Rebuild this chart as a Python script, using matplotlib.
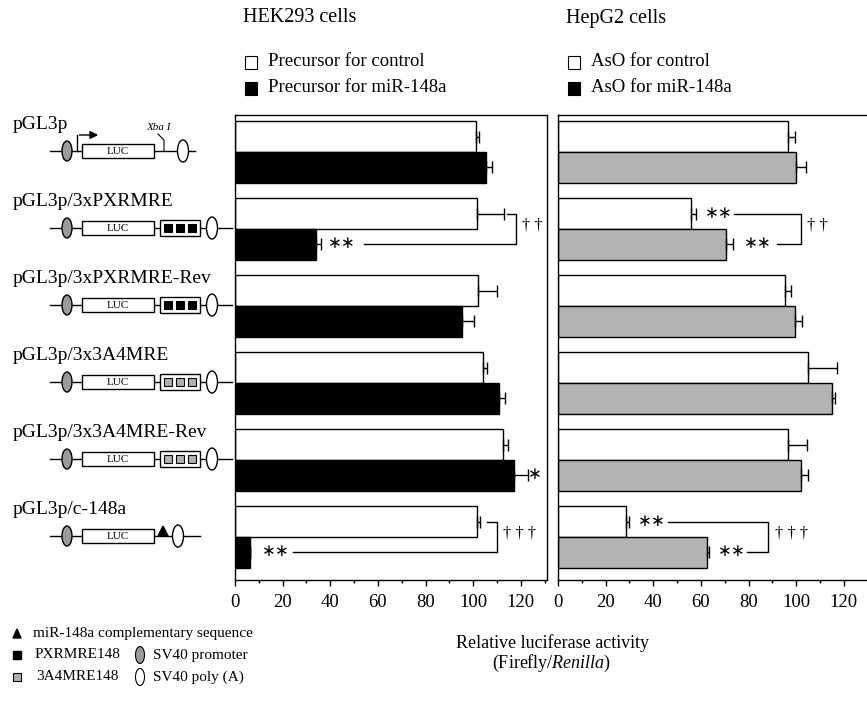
import matplotlib
matplotlib.use('Agg')
import matplotlib.pyplot as plt
from matplotlib.patches import Rectangle, Ellipse, Polygon
from matplotlib.ticker import MultipleLocator
import numpy as np

plt.rcParams['font.family'] = ['Liberation Serif', 'DejaVu Sans']
plt.rcParams['mathtext.fontset'] = 'custom'
plt.rcParams['mathtext.rm'] = 'Liberation Serif'
plt.rcParams['mathtext.it'] = 'Liberation Serif:italic'

# --- data ---
constructs = ['pGL3p', 'pGL3p/3xPXRMRE', 'pGL3p/3xPXRMRE-Rev',
              'pGL3p/3x3A4MRE', 'pGL3p/3x3A4MRE-Rev', 'pGL3p/c-148a']
construct_kind = ['plain', 'pxr', 'pxr', 'a4', 'a4', 'c148']

hek_ctrl = [101, 101.5, 102, 104, 112.5, 101.5]
hek_ctrl_err = [1.5, 11.5, 8, 2, 2, 1.5]
hek_mir = [105.5, 34, 95.5, 111, 117, 6.5]
hek_mir_err = [2.5, 2, 5, 2.5, 6, 0]

hep_ctrl = [96.5, 56, 95.5, 105, 96.5, 28.5]
hep_ctrl_err = [3, 2, 2.5, 12, 8, 1.5]
hep_aso = [100, 70.5, 99.5, 115, 102, 62.5]
hep_aso_err = [4, 3, 3, 1.5, 3, 1]

hek_title = 'HEK293 cells'
hep_title = 'HepG2 cells'
hek_legend = ['Precursor for control', 'Precursor for miR-148a']
hep_legend = ['AsO for control', 'AsO for miR-148a']
xticks = [0, 20, 40, 60, 80, 100, 120]

W, H = 867, 707
fig = plt.figure(figsize=(W / 100, H / 100), dpi=100)

# full figure axes in pixel coords for the schematic stuff
dax = fig.add_axes([0, 0, 1, 1])
dax.set_xlim(0, W)
dax.set_ylim(H, 0)
dax.axis('off')

top, bot = 115, 580
def pix_axes(x0, width):
    return fig.add_axes([x0 / W, (H - bot) / H, width / W, (bot - top) / H])

ax1 = pix_axes(235, 312)
ax2 = pix_axes(558, 312)   # right frame runs off the edge like the scan

yc = np.arange(len(constructs))
hb = 0.4

def panel(ax, ctrl, ctrl_err, trt, trt_err, trt_color):
    zeros = [0] * len(ctrl)
    ekw = dict(elinewidth=1, capthick=1, ecolor='k')
    ax.barh(yc - hb / 2, ctrl, height=hb, color='white', edgecolor='k', lw=1,
            xerr=[zeros, ctrl_err], capsize=4, error_kw=ekw)
    ax.barh(yc + hb / 2, trt, height=hb, color=trt_color, edgecolor='k', lw=1,
            xerr=[zeros, trt_err], capsize=4, error_kw=ekw)
    ax.set_xlim(0, 131)
    ax.set_ylim(5.558, -0.4805)
    ax.set_yticks([])
    ax.set_xticks(xticks)
    ax.xaxis.set_minor_locator(MultipleLocator(10))
    ax.tick_params(axis='x', which='major', direction='out', length=4, width=1,
                   labelsize=13.5, pad=6)
    ax.tick_params(axis='x', which='minor', direction='out', length=2.5, width=1)
    for s in ax.spines.values():
        s.set_linewidth(1)

panel(ax1, hek_ctrl, hek_ctrl_err, hek_mir, hek_mir_err, 'black')
panel(ax2, hep_ctrl, hep_ctrl_err, hep_aso, hep_aso_err, '#b3b3b3')

STAR = dict(fontsize=12, ha='center', va='center')

def bracket(ax, i, xt0, xb0, xv, dag, xd):
    yw, yb = i - hb / 2, i + hb / 2
    ax.plot([xt0, xv, xv, xb0], [yw, yw, yb, yb], color='k', lw=1)
    ax.text(xd, i - 0.05, dag, fontsize=12, ha='center', va='center')

# HEK293 significance marks
bracket(ax1, 1, 114, 54, 118, '\u2020 \u2020', 125)
ax1.text(45, 1 + hb / 2, '\u2217\u2217', **STAR)
bracket(ax1, 5, 106, 24.5, 110, '\u2020 \u2020 \u2020', 119.5)
ax1.text(17, 5 + hb / 2, '\u2217\u2217', **STAR)
ax1.text(126, 4 + hb / 2, '\u2217', **STAR)

# HepG2 significance marks
bracket(ax2, 1, 74, 92, 102, '\u2020 \u2020', 109)
ax2.text(67.5, 1 - hb / 2, '\u2217\u2217', **STAR)
ax2.text(84, 1 + hb / 2, '\u2217\u2217', **STAR)
bracket(ax2, 5, 46, 79.5, 88, '\u2020 \u2020 \u2020', 98)
ax2.text(39.5, 5 - hb / 2, '\u2217\u2217', **STAR)
ax2.text(73, 5 + hb / 2, '\u2217\u2217', **STAR)

# titles + legends on top
for x0, title, labs, fcs in [(243, hek_title, hek_legend, ['white', 'black']),
                              (566, hep_title, hep_legend, ['white', 'black'])]:
    dax.text(x0, 18, title, fontsize=14.5, va='center')
    for k, (lab, fc) in enumerate(zip(labs, fcs)):
        yy = 62 + 26 * k
        dax.add_patch(Rectangle((x0 + 2, yy - 6.5), 12, 13, fc=fc, ec='k', lw=0.8))
        dax.text(x0 + 25, yy, lab, fontsize=13.5, va='center')

# construct schematics
def construct(y, kind):
    lw = 1
    if kind in ('pxr', 'a4'):
        x_end, poly_x = 232, 212
    elif kind == 'c148':
        x_end, poly_x = 200, 178
    else:
        x_end, poly_x = 195, 183
    dax.plot([50, x_end], [y, y], color='k', lw=lw, zorder=1)
    dax.add_patch(Ellipse((67, y), 10, 20, fc='#9a9a9a', ec='k', lw=lw, zorder=2))
    dax.add_patch(Rectangle((82, y - 7), 72, 14, fc='white', ec='k', lw=lw, zorder=2))
    dax.text(118, y + 0.5, 'LUC', fontsize=8, ha='center', va='center', zorder=3)
    if kind in ('pxr', 'a4'):
        dax.add_patch(Rectangle((160, y - 8), 40, 16, fc='white', ec='k', lw=lw, zorder=2))
        fc = 'black' if kind == 'pxr' else '#b0b0b0'
        for sx in (164, 176, 188):
            dax.add_patch(Rectangle((sx, y - 4), 8, 8, fc=fc, ec='k', lw=0.8, zorder=3))
    if kind == 'c148':
        dax.add_patch(Polygon([(158, y), (163, y - 10), (168, y)], closed=True,
                              fc='k', ec='k', zorder=3))
    if kind == 'plain':
        dax.plot([77, 77], [y, y - 16], color='k', lw=lw)
        dax.annotate('', xy=(101, y - 16), xytext=(76.5, y - 16),
                     arrowprops=dict(arrowstyle='-|>', color='k', lw=lw, mutation_scale=12))
        dax.plot([164, 164, 158], [y, y - 11, y - 17], color='k', lw=0.8)
        dax.text(146, y - 24, 'Xba I', fontsize=8, fontstyle='italic', va='center')
    dax.add_patch(Ellipse((poly_x, y), 11, 22, fc='white', ec='k', lw=lw, zorder=2))

for i, (name, kind) in enumerate(zip(constructs, construct_kind)):
    ypix = H - ax1.transData.transform((0, i))[1]
    dax.text(13, ypix - 28, name, fontsize=14, va='center')
    construct(ypix - 1, kind)

# bottom key
dax.add_patch(Polygon([(13, 638), (17, 629), (21, 638)], closed=True, fc='k', ec='k'))
dax.text(33, 634, 'miR-148a complementary sequence', fontsize=11, va='center')
dax.add_patch(Rectangle((13, 651), 8, 8, fc='k', ec='k'))
dax.text(35, 655, 'PXRMRE148', fontsize=11, va='center')
dax.add_patch(Ellipse((140, 655), 9, 17, fc='#9a9a9a', ec='k', lw=0.8))
dax.text(153, 655, 'SV40 promoter', fontsize=11, va='center')
dax.add_patch(Rectangle((13, 673), 8, 8, fc='#b0b0b0', ec='k', lw=0.8))
dax.text(36, 677, '3A4MRE148', fontsize=11, va='center')
dax.add_patch(Ellipse((140, 677), 9, 17, fc='white', ec='k', lw=0.8))
dax.text(153, 677, 'SV40 poly (A)', fontsize=11, va='center')

# shared x label
dax.text(552, 643, 'Relative luciferase activity', fontsize=13, ha='center', va='center')
dax.text(552, 663, r'(Firefly/$\it{Renilla}$)', fontsize=13, ha='center', va='center')

fig.savefig('out.png', dpi=100)
